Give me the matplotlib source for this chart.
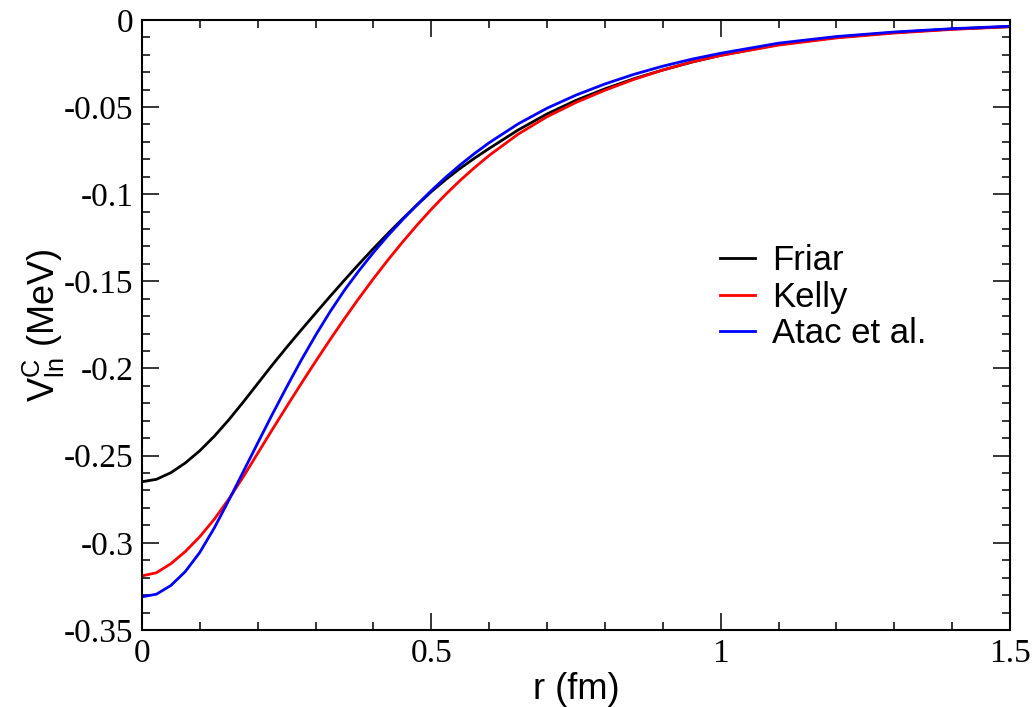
import matplotlib
matplotlib.use("Agg")
import matplotlib.pyplot as plt
import numpy as np
from matplotlib.ticker import MultipleLocator, FuncFormatter

# r grid (fm) and potentials (MeV)
r = [0.000, 0.025, 0.050, 0.075, 0.100, 0.125, 0.150, 0.175, 0.200, 0.225,
     0.250, 0.275, 0.300, 0.325, 0.350, 0.375, 0.400, 0.425, 0.450, 0.475,
     0.500, 0.525, 0.550, 0.575, 0.600, 0.650, 0.700, 0.750, 0.800, 0.850,
     0.900, 0.950, 1.000, 1.100, 1.200, 1.300, 1.400, 1.500]

friar = [-0.2650, -0.2636, -0.2598, -0.2542, -0.2472, -0.2389, -0.2295, -0.2193, -0.2087, -0.1981,
         -0.1879, -0.1780, -0.1683, -0.1587, -0.1493, -0.1401, -0.1312, -0.1226, -0.1143, -0.1063,
         -0.0986, -0.0916, -0.0852, -0.0793, -0.0738, -0.0632, -0.0540, -0.0462, -0.0396, -0.0338,
         -0.0288, -0.0243, -0.0204, -0.0142, -0.0101, -0.0073, -0.0053, -0.0039]

kelly = [-0.3190, -0.3172, -0.3120, -0.3050, -0.2965, -0.2865, -0.2750, -0.2622, -0.2487, -0.2352,
         -0.2219, -0.2088, -0.1960, -0.1835, -0.1714, -0.1597, -0.1485, -0.1378, -0.1276, -0.1179,
         -0.1087, -0.1001, -0.0921, -0.0847, -0.0778, -0.0656, -0.0556, -0.0474, -0.0404, -0.0342,
         -0.0288, -0.0242, -0.0204, -0.0145, -0.0104, -0.0076, -0.0055, -0.0040]

atac = [-0.3310, -0.3295, -0.3245, -0.3165, -0.3055, -0.2915, -0.2757, -0.2593, -0.2428, -0.2265,
        -0.2107, -0.1954, -0.1810, -0.1675, -0.1551, -0.1439, -0.1335, -0.1238, -0.1148, -0.1062,
        -0.0980, -0.0903, -0.0832, -0.0766, -0.0705, -0.0597, -0.0507, -0.0432, -0.0368, -0.0313,
        -0.0266, -0.0226, -0.0192, -0.0134, -0.0096, -0.0070, -0.0051, -0.0037]

labels = ["Friar", "Kelly", "Atac et al."]
colors = ["black", "red", "blue"]

plt.rcParams['axes.unicode_minus'] = False
plt.rcParams['mathtext.fontset'] = 'custom'
plt.rcParams['mathtext.rm'] = 'Liberation Sans'
plt.rcParams['mathtext.it'] = 'Liberation Sans'

fig = plt.figure(figsize=(10.36, 7.07), dpi=100)
ax = fig.add_axes([0.137, 0.109, 0.838, 0.863])

for y, lab, c in zip([friar, kelly, atac], labels, colors):
    ax.plot(r, y, color=c, lw=2.0, label=lab, solid_joinstyle='round')

ax.set_xlim(0, 1.5)
ax.set_ylim(-0.35, 0)
ax.xaxis.set_major_locator(MultipleLocator(0.5))
ax.xaxis.set_minor_locator(MultipleLocator(0.1))
ax.yaxis.set_major_locator(MultipleLocator(0.05))
ax.yaxis.set_minor_locator(MultipleLocator(0.01))
fmt = FuncFormatter(lambda v, p: '%g' % round(v, 4) if abs(v) > 1e-9 else '0')
ax.xaxis.set_major_formatter(fmt)
ax.yaxis.set_major_formatter(fmt)

ax.tick_params(which='both', direction='in', top=True, right=True, width=1.1)
ax.tick_params(which='major', length=12, labelsize=24, pad=6)
ax.tick_params(which='minor', length=6)
for t in ax.get_xticklabels() + ax.get_yticklabels():
    t.set_fontfamily('Liberation Serif')
for s in ax.spines.values():
    s.set_linewidth(1.5)

ax.set_xlabel('r (fm)', fontsize=26, family='Liberation Sans', labelpad=2)
ax.set_ylabel(r'V$^{\rm C}_{\rm ln}$ (MeV)', fontsize=26, family='Liberation Sans', labelpad=-2)

ax.legend(loc='upper left', bbox_to_anchor=(0.65, 0.655), frameon=False,
          prop={'family': 'Liberation Sans', 'size': 25},
          handlelength=1.0, handletextpad=0.5, labelspacing=0.1, borderaxespad=0)

fig.savefig('out.png', dpi=100)
